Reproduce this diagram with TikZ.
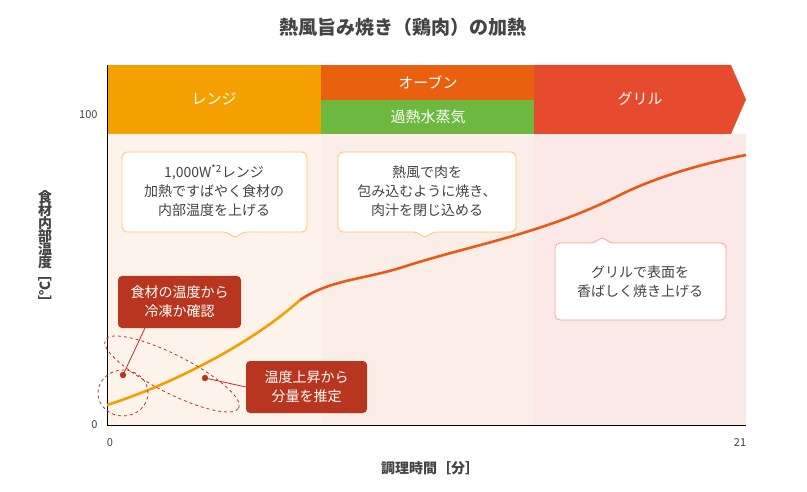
\documentclass[tikz,border=0pt]{standalone}
\usepackage{fontspec}
\setmainfont{Noto Sans CJK JP}
\usetikzlibrary{shapes.geometric,calc}
\definecolor{c1}{HTML}{F3A000}
\definecolor{c2}{HTML}{E9600F}
\definecolor{c3}{HTML}{E64B2E}
\definecolor{cg}{HTML}{6DB83F}
\definecolor{b1}{HTML}{FDF3EA}
\definecolor{b2}{HTML}{FBEDE8}
\definecolor{b3}{HTML}{FBE9E7}
\definecolor{dr}{HTML}{B8361F}
\definecolor{tx}{HTML}{444444}
\tikzset{
 lbl/.style={text=white,font=\fontsize{15}{18}\selectfont},
 callout/.style={draw=#1,fill=white,rounded corners=5pt,line width=0.8pt,text=tx,align=center,font=\fontsize{14}{19}\selectfont},
 redbox/.style={fill=dr,rounded corners=4pt,text=white,align=center,font=\fontsize{14}{19}\selectfont,minimum width=123pt,minimum height=52pt},
 dashel/.style={draw=dr,dashed,line width=0.8pt},
 tick/.style={text=tx,font=\fontsize{11}{13}\selectfont},
}
\begin{document}
\begin{tikzpicture}[x=1pt,y=-1pt]
\useasboundingbox (0,0) rectangle (807,492);
\fill[white] (0,0) rectangle (807,492);
\node[text=tx,font=\fontsize{19}{22}\selectfont\bfseries] (title) at (403,27) {熱風旨み焼き（鶏肉）の加熱};
% backgrounds
\fill[b1] (107,134) rectangle (321,425);
\fill[b2] (321,134) rectangle (534,425);
\fill[b3] (534,134) rectangle (746,425);
% top bars
\fill[c1] (107,65) rectangle (321,134);
\fill[c2] (321,65) rectangle (534,100);
\fill[cg] (321,100) rectangle (534,134);
\fill[c3] (534,65) -- (731,65) -- (746,99.5) -- (731,134) -- (534,134) -- cycle;
\node[lbl] (range) at (214,99) {レンジ};
\node[lbl] (oven) at (428,82) {オーブン};
\node[lbl] (steam) at (428,117) {過熱水蒸気};
\node[lbl] (grill) at (640,99) {グリル};
% axes
\draw[black,line width=0.8pt] (107,65) -- (107,425) -- (746,425);
\node[tick,anchor=east] (y100) at (101,115) {100};
\node[tick,anchor=east] (y0) at (101,425) {0};
\node[tick] (x0) at (110,443) {0};
\node[tick] (x21) at (740,443) {21};
\node[text=tx,font=\fontsize{14}{16}\selectfont\bfseries] (xl) at (430,468) {調理時間［分］};
\node[text=tx,font=\fontsize{14}{16}\selectfont\bfseries,align=center,inner sep=0] (yl) at (45,250) {食\\[-3pt]材\\[-3pt]内\\[-3pt]部\\[-3pt]温\\[-3pt]度\\[-3pt]\rotatebox{90}{［℃］}};
% curve
\draw[c1,line width=2.6pt] (107,405) .. controls (170,385) and (250,345) .. (300,300);
\draw[c2!70!c3,line width=2.6pt] (300,300) .. controls (330,280) and (360,280) .. (400,268) .. controls (470,245) and (540,235) .. (620,195) .. controls (660,175) and (710,162) .. (746,155);
% callouts
\draw[callout=c1!60] (122,152) -- (307,152) -- (307,232) -- (242,232) -- (235,239) -- (228,232) -- (122,232) -- cycle;
\node[callout=white,draw=none,fill=none] (t1) at (214,191) {1,000W\textsuperscript{*2}レンジ\\加熱ですばやく食材の\\内部温度を上げる};
\draw[callout=c1!60] (338,152) -- (516,152) -- (516,232) -- (432,232) -- (425,239) -- (418,232) -- (338,232) -- cycle;
\node[callout=white,draw=none,fill=none] (t2) at (427,191) {熱風で肉を\\包み込むように焼き、\\肉汁を閉じ込める};
\draw[callout=c3!50] (555,243) -- (595,243) -- (602,236) -- (609,243) -- (726,243) -- (726,320) -- (555,320) -- cycle;
\node[callout=white,draw=none,fill=none] (t3) at (640,282) {グリルで表面を\\香ばしく焼き上げる};
% red boxes
\node[redbox] (r1) at (179.5,302) {食材の温度から\\冷凍か確認};
\node[redbox,minimum width=121pt] (r2) at (306.5,387) {温度上昇から\\分量を推定};
% dashed ellipses
\node[dashel,ellipse,minimum width=50pt,minimum height=46pt] (e1) at (123,393) {};
\node[dashel,ellipse,rotate=-27,minimum width=150pt,minimum height=38pt] (e2) at (172,374) {};
\fill[dr] (123,375) circle (3.2pt) coordinate (d1);
\fill[dr] (205,378) circle (3.2pt) coordinate (d2);
\draw[dr,line width=0.8pt] (d1) -- (145,328);
\draw[dr,line width=0.8pt] (d2) -- (r2.west);
\end{tikzpicture}
\end{document}
